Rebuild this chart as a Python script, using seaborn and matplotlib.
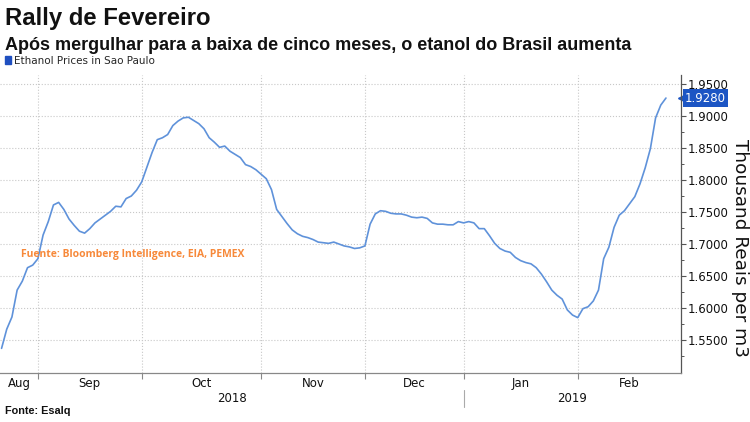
import numpy as np
import pandas as pd
import matplotlib
matplotlib.use("Agg")
import matplotlib.pyplot as plt
import matplotlib.patches as mpatches
import matplotlib.transforms as mtransforms
import seaborn as sns

# Esalq hydrous ethanol index, Sao Paulo (one value per trading day)
PRICES = [
    1.537, 1.567, 1.586, 1.628, 1.642, 1.663, 1.667, 1.677, 1.714, 1.735,
    1.761, 1.765, 1.754, 1.739, 1.729, 1.720, 1.717, 1.724, 1.733, 1.739,
    1.745, 1.751, 1.759, 1.758, 1.771, 1.775, 1.784, 1.797, 1.820, 1.843,
    1.863, 1.866, 1.871, 1.885, 1.892, 1.897, 1.898, 1.893, 1.888, 1.880,
    1.866, 1.859, 1.851, 1.853, 1.845, 1.840, 1.835, 1.824, 1.821, 1.816,
    1.809, 1.802, 1.785, 1.754, 1.743, 1.732, 1.722, 1.716, 1.712, 1.710,
    1.707, 1.703, 1.702, 1.701, 1.703, 1.700, 1.697, 1.6955, 1.693, 1.694,
    1.697, 1.731, 1.747, 1.752, 1.751, 1.748, 1.747, 1.747, 1.745, 1.742,
    1.741, 1.742, 1.740, 1.733, 1.731, 1.731, 1.730, 1.730, 1.735, 1.733,
    1.735, 1.733, 1.724, 1.724, 1.713, 1.701, 1.693, 1.689, 1.687, 1.679,
    1.674, 1.671, 1.669, 1.663, 1.653, 1.641, 1.628, 1.620, 1.614, 1.597,
    1.589, 1.585, 1.599, 1.602, 1.611, 1.628, 1.677, 1.695, 1.726, 1.745,
    1.752, 1.763, 1.774, 1.794, 1.819, 1.849, 1.897, 1.917, 1.928,
]
# trading-day index where each month starts (Sep..Feb), plus end of Feb
MONTH_STARTS = [7, 27, 50, 70, 89, 111]
MONTH_END = 131
MONTH_LABELS = ["Aug", "Sep", "Oct", "Nov", "Dec", "Jan", "Feb"]
YEARS = ["2018", "2019"]
Y_TICKS = [1.55, 1.60, 1.65, 1.70, 1.75, 1.80, 1.85, 1.90, 1.95]

LINE_COLOR = "#5f92da"
TAG_COLOR = "#1c55c4"
LEGEND_COLOR = "#1f4fc0"
ORANGE = "#f7893a"
GRID_COLOR = "#c8c8c8"

sns.set_style("white")
plt.rcParams["font.family"] = ["DejaVu Sans"]

df = pd.DataFrame({"day": np.arange(len(PRICES)), "price": PRICES})

fig = plt.figure(figsize=(7.5, 4.22), dpi=100)
ax = fig.add_axes([0.0, 1 - 373 / 422, 680.5 / 750, (373 - 75) / 422])

sns.lineplot(data=df, x="day", y="price", ax=ax, color=LINE_COLOR, lw=1.2)

xmin, xmax = -0.3, 130.8
ax.set_xlim(xmin, xmax)
ax.set_ylim(1.4985, 1.964)

# y axis on the right
ax.yaxis.tick_right()
ax.set_yticks(Y_TICKS)
ax.set_yticklabels([f"{v:.4f}" for v in Y_TICKS])
ax.set_yticks([v - 0.025 for v in Y_TICKS], minor=True)
ax.tick_params(axis="y", which="major", length=3.5, width=0.8, color="#555555",
               labelsize=8.5, labelcolor="#111111", pad=2, right=True, left=False)
ax.tick_params(axis="y", which="minor", length=2, width=0.7, color="#555555",
               right=True, left=False)

# x axis: ticks at month starts, labels centred in each month
ax.set_xticks(MONTH_STARTS)
ax.set_xticklabels([])
bounds = [xmin] + MONTH_STARTS + [MONTH_END]
mids = [(a + b) / 2 for a, b in zip(bounds[:-1], bounds[1:])]
ax.set_xticks(mids, minor=True)
ax.set_xticklabels(MONTH_LABELS, minor=True)
ax.tick_params(axis="x", which="major", length=4, width=0.8, color="#888888",
               bottom=True)
ax.tick_params(axis="x", which="minor", length=0, labelsize=8.5,
               labelcolor="#111111", pad=3)

ax.grid(True, which="major", color=GRID_COLOR, ls=":", lw=0.8)
for side in ["top", "left"]:
    ax.spines[side].set_visible(False)
ax.spines["right"].set_color("#555555")
ax.spines["right"].set_linewidth(0.9)
ax.spines["bottom"].set_color("#888888")
ax.spines["bottom"].set_linewidth(0.9)
ax.set_xlabel("")
ax.set_ylabel("")

# years under the months, with separator at January
blend = mtransforms.blended_transform_factory(ax.transData, ax.transAxes)
jan = MONTH_STARTS[4]
ax.plot([jan, jan], [-0.057, -0.114], transform=blend, color="#aaaaaa",
        lw=0.8, clip_on=False)
ax.text((xmin + jan) / 2, -0.087, YEARS[0], transform=blend, ha="center",
        va="center", fontsize=8.5, color="#111111")
ax.text((jan + xmax) / 2, -0.087, YEARS[1], transform=blend, ha="center",
        va="center", fontsize=8.5, color="#111111")

# last value tag on the right axis
tag = mtransforms.blended_transform_factory(ax.transAxes, ax.transData)
last = PRICES[-1]
ax.plot([1.0007], [last], marker="<", ms=5, color=TAG_COLOR, transform=tag,
        clip_on=False)
ax.text(1.0066, last, f"{last:.4f}", transform=tag, ha="left", va="center",
        fontsize=8.5, color="white",
        bbox=dict(boxstyle="square,pad=0.2", fc=TAG_COLOR, ec="none"))

# in-chart source note
ax.text(21 / 680.5, 0.396, "Fuente: Bloomberg Intelligence, EIA, PEMEX",
        transform=ax.transAxes, ha="left", va="center", fontsize=7.5,
        color=ORANGE, family="Open Sans", fontweight="bold")

fig.text(740 / 750, 1 - 248 / 422, "Thousand Reais per m3", rotation=270,
         ha="center", va="center", fontsize=13.3, color="#111111")

# titles and legend
fig.text(5 / 750, 1 - 18 / 422, "Rally de Fevereiro", ha="left", va="center",
         fontsize=17.2, fontweight="bold", family="Liberation Sans", color="#111111")
fig.text(5 / 750, 1 - 45 / 422,
         "Após mergulhar para a baixa de cinco meses, o etanol do Brasil aumenta",
         ha="left", va="center", fontsize=13, fontweight="bold",
         family="Liberation Sans", color="#111111")
handle = mpatches.Patch(color=LEGEND_COLOR, label="Ethanol Prices in Sao Paulo")
fig.legend(handles=[handle], loc="center left", bbox_to_anchor=(5 / 750, 1 - 61 / 422),
           frameon=False, fontsize=7.5, handlelength=0.6, handleheight=0.8,
           handletextpad=0.3, borderpad=0, borderaxespad=0)

fig.text(5 / 750, 1 - 411 / 422, "Fonte: Esalq", ha="left", va="center",
         fontsize=7.8, fontweight="bold", family="Liberation Sans", color="#111111")

fig.savefig("out.png", dpi=100)
